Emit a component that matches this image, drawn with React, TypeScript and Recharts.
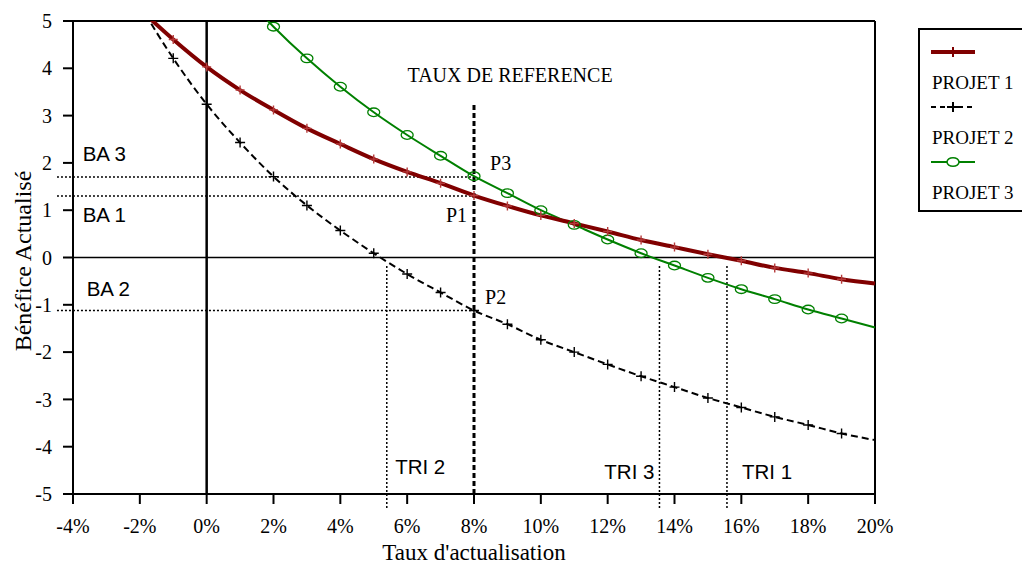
import { LineChart, Line, XAxis, YAxis, ReferenceLine, ReferenceDot } from 'recharts'

// taux d'actualisation (%) et bénéfice actualisé de chaque projet
const taux = [-2, -1, 0, 1, 2, 3, 4, 5, 6, 7, 8, 9, 10, 11, 12, 13, 14, 15, 16, 17, 18, 19, 20]
const projet1 = [5.25, 4.61, 4.03, 3.54, 3.12, 2.73, 2.4, 2.08, 1.81, 1.57, 1.31, 1.09, 0.89, 0.72, 0.55, 0.37, 0.22, 0.07, -0.07, -0.22, -0.33, -0.46, -0.55]
const projet2 = [5.34, 4.21, 3.24, 2.43, 1.71, 1.1, 0.57, 0.09, -0.35, -0.74, -1.12, -1.41, -1.74, -2.0, -2.26, -2.51, -2.74, -2.97, -3.17, -3.37, -3.54, -3.72, -3.86]
const projet3 = [null, null, null, 5.63, 4.88, 4.21, 3.61, 3.07, 2.59, 2.15, 1.72, 1.36, 1.0, 0.69, 0.38, 0.09, -0.17, -0.43, -0.67, -0.88, -1.1, -1.29, -1.48]

const xTicks = [-4, -2, 0, 2, 4, 6, 8, 10, 12, 14, 16, 18, 20]
const yTicks = [-5, -4, -3, -2, -1, 0, 1, 2, 3, 4, 5]

const tauxReference = 8
const baValues = [1.7, 1.3, -1.12]
const triValues = [5.39, 13.55, 15.57]

const data = taux.map((t, i) => ({ taux: t, p1: projet1[i], p2: projet2[i], p3: projet3[i] }))

const SERIF = "'Liberation Serif', 'Times New Roman', serif"
const SANS = "'Liberation Sans', Arial, sans-serif"

// annotations: [texte, x, y, police, ancrage]
const notes: Array<[string, number, number, string, string]> = [
  ['TAUX DE REFERENCE', 9.08, 3.7, SERIF, 'middle'],
  ['BA 3', -3.71, 2.05, SANS, 'start'],
  ['BA 1', -3.71, 0.76, SANS, 'start'],
  ['BA 2', -3.59, -0.81, SANS, 'start'],
  ['P3', 8.48, 1.85, SERIF, 'start'],
  ['P1', 7.16, 0.76, SERIF, 'start'],
  ['P2', 8.33, -0.98, SERIF, 'start'],
  ['TRI 2', 5.64, -4.57, SANS, 'start'],
  ['TRI 3', 11.9, -4.69, SANS, 'start'],
  ['TRI 1', 16.02, -4.69, SANS, 'start'],
]

const hidden = (props: any) => props.cy == null || props.payload.taux >= 20

const plusDot = (color: string, size: number) => (props: any) => {
  const { cx, cy, index } = props
  if (hidden(props)) return <g key={index} />
  return (
    <path
      key={index}
      d={`M${cx - size},${cy}H${cx + size}M${cx},${cy - size}V${cy + size}`}
      stroke={color}
      strokeWidth={1.4}
      fill="none"
    />
  )
}

const ovalDot = (props: any) => {
  const { cx, cy, index } = props
  if (hidden(props)) return <g key={index} />
  return <ellipse key={index} cx={cx} cy={cy} rx={6} ry={4.3} stroke="#008000" strokeWidth={1.3} fill="none" />
}

function Legende() {
  const items = [
    { name: 'PROJET 1', color: '#800000', width: 4, dash: undefined, mark: 'plus' },
    { name: 'PROJET 2', color: '#000', width: 2, dash: '5 4', mark: 'plus' },
    { name: 'PROJET 3', color: '#008000', width: 2, dash: undefined, mark: 'oval' },
  ]
  return (
    <svg width={120} height={184} style={{ position: 'absolute', left: 918, top: 28 }}>
      <rect x={1} y={1} width={130} height={182} fill="#fff" stroke="#000" strokeWidth={2} />
      {items.map((it, i) => {
        const y = 24 + i * 55
        return (
          <g key={it.name}>
            <line x1={13} x2={57} y1={y} y2={y} stroke={it.color} strokeWidth={it.width} strokeDasharray={it.dash} />
            {it.mark === 'plus' ? (
              <path d={`M29,${y}H41M35,${y - 5}V${y + 5}`} stroke={it.color} strokeWidth={2} />
            ) : (
              <ellipse cx={35} cy={y} rx={6} ry={4.3} stroke={it.color} strokeWidth={1.5} fill="#fff" />
            )}
            <text x={14} y={y + 37} fontFamily={SERIF} fontSize={19} fill="#000">
              {it.name}
            </text>
          </g>
        )
      })}
    </svg>
  )
}

export default function App() {
  return (
    <div style={{ position: 'fixed', left: 0, top: 0, width: 1022, height: 565, overflow: 'hidden', background: '#fff' }}>
      <LineChart width={1022} height={565} data={data} margin={{ top: 21, right: 147, bottom: 0, left: 0 }}>
        <XAxis
          dataKey="taux"
          type="number"
          domain={[-4, 20]}
          ticks={xTicks}
          tickFormatter={(v) => `${v}%`}
          height={71}
          tickSize={10}
          tickMargin={15}
          axisLine={{ stroke: '#000', strokeWidth: 2 }}
          tickLine={{ stroke: '#000', strokeWidth: 2 }}
          tick={{ fill: '#000', fontFamily: SERIF, fontSize: 20 }}
          label={() => (
            <text x={474} y={560} textAnchor="middle" fontFamily={SERIF} fontSize={23} fill="#000">
              Taux d'actualisation
            </text>
          )}
        />
        <YAxis
          type="number"
          domain={[-5, 5]}
          allowDataOverflow
          ticks={yTicks}
          width={73}
          tickSize={10}
          tickMargin={11}
          axisLine={{ stroke: '#000', strokeWidth: 2 }}
          tickLine={{ stroke: '#000', strokeWidth: 2 }}
          tick={{ fill: '#000', fontFamily: SERIF, fontSize: 20 }}
          label={() => (
            <text
              x={31}
              y={261}
              transform="rotate(-90 31 261)"
              textAnchor="middle"
              fontFamily={SERIF}
              fontSize={24}
              fill="#000"
            >
              Bénéfice Actualisé
            </text>
          )}
        />
        <ReferenceLine y={5} stroke="#000" strokeWidth={2} />
        <ReferenceLine x={20} stroke="#000" strokeWidth={2} />
        <ReferenceLine x={0} stroke="#000" strokeWidth={2.5} />
        <ReferenceLine y={0} stroke="#000" strokeWidth={1.5} />
        {baValues.map((v) => (
          <ReferenceLine
            key={`ba${v}`}
            segment={[{ x: -4.48, y: v }, { x: tauxReference, y: v }]}
            stroke="#000"
            strokeWidth={1.5}
            strokeDasharray="2 2"
            ifOverflow="visible"
          />
        ))}
        {triValues.map((v) => (
          <ReferenceLine
            key={`tri${v}`}
            segment={[{ x: v, y: -0.18 }, { x: v, y: -5.3 }]}
            stroke="#000"
            strokeWidth={1.5}
            strokeDasharray="2 2"
            ifOverflow="visible"
          />
        ))}
        <ReferenceLine
          segment={[{ x: tauxReference, y: -5 }, { x: tauxReference, y: 3.28 }]}
          stroke="#000"
          strokeWidth={3}
          strokeDasharray="5 3"
        />
        <Line
          dataKey="p2"
          type="monotone"
          stroke="#000"
          strokeWidth={2}
          strokeDasharray="7 4"
          dot={plusDot('#000', 5)}
          isAnimationActive={false}
        />
        <Line
          dataKey="p3"
          type="monotone"
          stroke="#008000"
          strokeWidth={2}
          dot={ovalDot}
          isAnimationActive={false}
        />
        <Line
          dataKey="p1"
          type="monotone"
          stroke="#800000"
          strokeWidth={4}
          dot={plusDot('#b53a3a', 4.5)}
          isAnimationActive={false}
        />
        {notes.map(([txt, x, y, font, anchor]) => (
          <ReferenceDot
            key={txt}
            x={x}
            y={y}
            r={0}
            fill="none"
            stroke="none"
            ifOverflow="visible"
            label={{
              content: (p: any) => (
                <text
                  x={p.viewBox?.x ?? 0}
                  y={p.viewBox?.y ?? 0}
                  textAnchor={anchor}
                  fontFamily={font}
                  fontSize={font === SANS ? 20.5 : 20}
                  fill="#000"
                >
                  {txt}
                </text>
              ),
            }}
          />
        ))}
      </LineChart>
      <Legende />
    </div>
  )
}
